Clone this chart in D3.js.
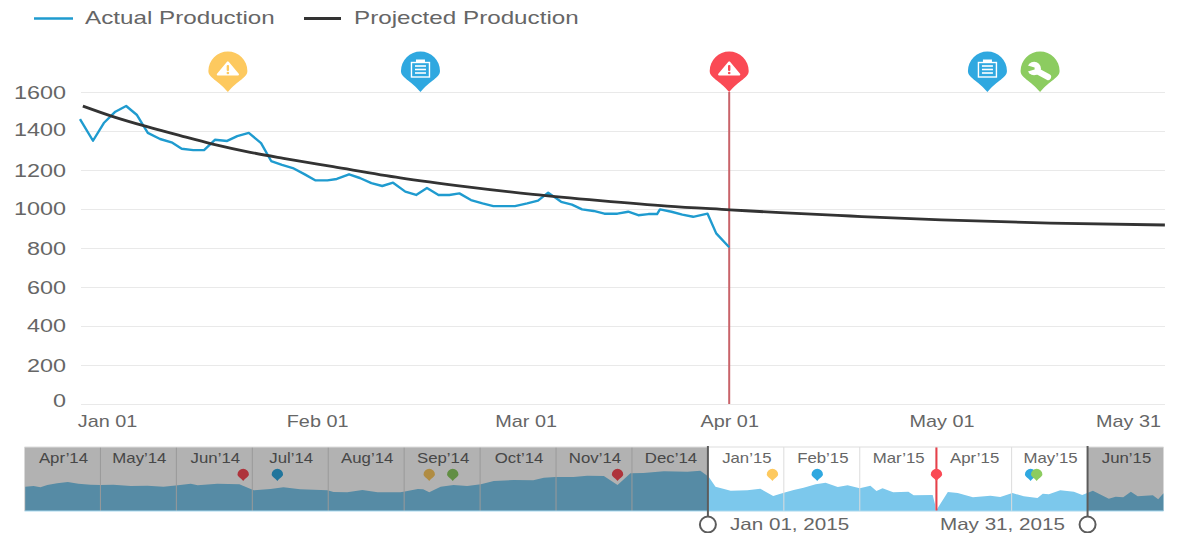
<!DOCTYPE html>
<html><head><meta charset="utf-8">
<script src="https://cdn.jsdelivr.net/npm/d3@7/dist/d3.min.js"></script>
<style>html,body{margin:0;padding:0;background:#fff}svg{display:block}text{font-family:"Liberation Sans",Arial,sans-serif}</style>
</head><body><svg id="c" width="1177" height="533"></svg>
<script>
const seriesNames = ["Actual Production", "Projected Production"];
const actualDays = [0,1.8,3.3,4.9,6.4,7.9,9.4,11.1,12.8,14.1,15.7,17.2,18.7,20.4,21.8,23.4,25.1,26.5,28,29.5,31.1,32.6,34.3,35.6,37.3,38.8,40.4,41.9,43.4,45.1,46.6,48.1,49.7,51.2,52.6,54.2,55.8,57.3,60.3,62,63.5,64.9,66.7,68.2,69.6,71.2,72.7,74.5,76,77.4,78.8,80,80.4,82,83.5,85,87,88.2,90];
const actualValues = [1461,1350,1441,1499,1528,1482,1390,1359,1340,1309,1302,1302,1355,1349,1374,1390,1338,1246,1226,1210,1179,1147,1147,1154,1178,1159,1133,1118,1135,1089,1072,1108,1072,1072,1080,1046,1029,1015,1015,1029,1043,1084,1037,1022,998,990,976,976,986,968,974,974,998,986,971,960,976,875,804];
const projectedDays = [0.4,4.9,9.3,13.9,18.4,23.6,28.2,35.1,44.4,53.7,62.8,72.1,81.4,90.1,97.1,106.8,119.4,134.5,150.4];
const projectedValues = [1528,1470,1422,1376,1333,1291,1260,1217,1160,1114,1075,1043,1015,996,981,964,944,928,918];
const yTicks = [0,200,400,600,800,1000,1200,1400,1600];
const yLabelNudge = [-4.5,0,-1,0,0,-1,0,-2,0];
const xTickDays = [0,31,59,90,120,150];
const xTickLabels = ["Jan 01","Feb 01","Mar 01","Apr 01","May 01","May 31"];
const xLabelNudge = [27,13.5,20,0,-4,-34];
const pinTypes = ["warn","clip","warn","clip","wrench"];
const pinColors = ["#fdc95f","#2fa8e0","#fa4a55","#2fa8e0","#8ccc60"];
const pinDays = [20.5,47.2,90,125.8,133.1];
const months = ["Apr’14","May’14","Jun’14","Jul’14","Aug’14","Sep’14","Oct’14","Nov’14","Dec’14","Jan’15","Feb’15","Mar’15","Apr’15","May’15","Jun’15"];
const miniMonths = [0.01,.12,.21,.30,.43,.57,.71,.87,1,1.17,1.4,1.62,1.83,2.02,2.19,2.28,2.54,2.83,2.94,3.02,3.24,3.41,3.63,3.99,4.07,4.25,4.45,4.65,4.95,4.99,5.18,5.25,5.33,5.48,5.65,5.83,6.01,6.18,6.44,6.7,6.84,6.99,7.23,7.41,7.63,7.81,7.98,8.15,8.42,8.73,8.9,9.01,9.1,9.3,9.52,9.69,9.86,10,10.13,10.26,10.42,10.55,10.71,10.84,11,11.14,11.22,11.3,11.44,11.64,11.71,11.96,12.01,12.16,12.29,12.49,12.72,12.85,13.01,13.16,13.34,13.41,13.49,13.64,13.82,13.93,14.07,14.28,14.37,14.47,14.57,14.66,14.86,14.93,15];
const miniValues = [607,625,592,650,692,725,682,657,650,657,625,632,607,642,682,642,682,667,582,517,550,592,542,517,475,467,525,467,467,482,550,542,467,607,650,625,667,750,775,767,832,850,850,882,875,650,942,950,992,982,1007,857,607,507,517,557,375,455,525,582,667,707,600,642,567,632,500,567,467,482,392,400,25,475,450,342,382,350,450,367,325,432,417,517,482,400,507,307,357,342,482,367,392,292,442];
const miniPinMonths = [2.88,3.33,5.33,5.64,7.81,9.85,10.44,12.01,13.25,13.33];
const miniPinColors = ["#fa4a55","#2fa8e0","#fdc95f","#8ccc60","#fa4a55","#fdc95f","#2fa8e0","#fa4a55","#2fa8e0","#8ccc60"];
const selectedMonths = [9,14];
const selectedLabels = ["Jan 01, 2015","May 31, 2015"];

const svg = d3.select("#c");
const textGrey = "#666";
function stretch(sel, sx, x, y){ sel.attr("x",0).attr("y",0).attr("dy",null).attr("transform",(d,i)=>{
  const px = typeof x==="function"?x(d,i):x, py = typeof y==="function"?y(d,i):y;
  return `translate(${px},${py}) scale(${sx},1)`;}); return sel; }

const x = d3.scaleLinear().domain([0,150]).range([80,1162]);
const y = d3.scaleLinear().domain([0,1600]).range([404,92]);

// grid + y axis
const gy = svg.append("g").attr("transform","translate(81,0)")
  .call(d3.axisLeft(y).tickValues(yTicks).tickSize(-1084).tickFormat(d3.format("d")));
gy.select(".domain").remove();
gy.selectAll("line").attr("stroke","#e9e9e9");
gy.selectAll("text").attr("font-size",18).attr("fill",textGrey).attr("text-anchor","end")
  .call(stretch,1.3,-15,(d,i)=>6.5+yLabelNudge[i]);

// x axis
const gx = svg.append("g").attr("transform","translate(0,404)")
  .call(d3.axisBottom(x).tickValues(xTickDays).tickSize(0).tickFormat((d,i)=>xTickLabels[i]));
gx.select(".domain").remove();
gx.selectAll("text").attr("font-size",16).attr("fill",textGrey).attr("text-anchor","middle")
  .call(stretch,1.24,(d,i)=>xLabelNudge[i],22.5);

// red marker
svg.append("line").attr("x1",x(90)).attr("x2",x(90)).attr("y1",y(1600)).attr("y2",y(0)).attr("stroke","#c9636a").attr("stroke-width",2);

// lines
const lineActual = d3.line().x((d,i)=>x(actualDays[i])).y(d=>y(d));
svg.append("path").datum(actualValues).attr("d",lineActual).attr("fill","none").attr("stroke","#1f9bcf").attr("stroke-width",2.4).attr("stroke-linejoin","round");
const lineProj = d3.line().x((d,i)=>x(projectedDays[i])).y(d=>y(d)).curve(d3.curveMonotoneX);
svg.append("path").datum(projectedValues).attr("d",lineProj).attr("fill","none").attr("stroke","#333").attr("stroke-width",2.8);

// pins
function pinPath(r,h){
  return `M0,0C${-r*.5},${-r*.6} ${-r},${-h+r*.35} ${-r},${-h}A${r},${r} 0 1 1 ${r},${-h}C${r},${-h+r*.35} ${r*.5},${-r*.6} 0,0Z`;
}
const pins = svg.append("g").selectAll("g").data(pinDays).join("g")
  .attr("transform",d=>`translate(${x(d)},${y(1600)})`);
pins.append("path").attr("d",pinPath(19.5,21)).attr("fill",(d,i)=>pinColors[i]);
pins.each(function(d,i){
  const g = d3.select(this), c = pinColors[i], t = pinTypes[i];
  if(t==="warn"){
    g.append("path").attr("d","M0,-29.5L10,-17.5H-10Z").attr("fill","#fff").attr("stroke","#fff").attr("stroke-width",2.2).attr("stroke-linejoin","round");
    g.append("rect").attr("x",-1.2).attr("y",-27).attr("width",2.4).attr("height",6).attr("rx",1).attr("fill",c);
    g.append("circle").attr("cy",-19).attr("r",1.3).attr("fill",c);
  } else if(t==="clip"){
    g.append("rect").attr("x",-9).attr("y",-29.5).attr("width",18).attr("height",14.5).attr("fill","none").attr("stroke","#fff").attr("stroke-width",1.4);
    g.append("rect").attr("x",-4.5).attr("y",-32.5).attr("width",9).attr("height",3.5).attr("fill","#fff");
    [-26,-22.5,-19].forEach(v=>g.append("line").attr("x1",-5.5).attr("x2",5.5).attr("y1",v).attr("y2",v).attr("stroke","#fff").attr("stroke-width",1.6));
  } else {
    g.append("path").attr("d","M-4,-21.5L8,-15").attr("fill","none").attr("stroke","#fff").attr("stroke-width",6).attr("stroke-linecap","round");
    g.append("circle").attr("cx",-6).attr("cy",-23.5).attr("r",6.8).attr("fill","#fff");
    g.append("path").attr("d","M-14,-27L-5.5,-24.5V-22.5L-14,-20Z").attr("fill",c);
  }
});

// legend
const legendX = [[34,73,85,"#1f9bcf",2.4],[304,341,354,"#333",2.8]];
const leg = svg.append("g").selectAll("g").data(seriesNames).join("g");
leg.append("line").attr("x1",(d,i)=>legendX[i][0]).attr("x2",(d,i)=>legendX[i][1]).attr("y1",18.5).attr("y2",18.5)
  .attr("stroke",(d,i)=>legendX[i][3]).attr("stroke-width",(d,i)=>legendX[i][4]);
leg.append("text").text(d=>d).attr("font-size",18).attr("fill",textGrey).call(stretch,1.345,(d,i)=>legendX[i][2],23.5);

// overview
const mx = d3.scaleLinear().domain([0,15]).range([24.5,1163.5]);
const my = d3.scaleLinear().domain([0,1600]).range([511,447]);
const ov = svg.append("g");
ov.append("rect").attr("x",mx(0)).attr("y",my(1600)).attr("width",mx(15)-mx(0)).attr("height",my(0)-my(1600)).attr("fill","#fff");
ov.append("path").datum(miniValues).attr("fill","#7cc8ec")
  .attr("d",d3.area().x((d,i)=>mx(miniMonths[i])).y0(my(0)).y1(d=>my(d)));
ov.selectAll(".sep").data(d3.range(1,15)).join("line").attr("x1",d=>mx(d)).attr("x2",d=>mx(d)).attr("y1",my(1600)).attr("y2",my(0)).attr("stroke","#dcdcdc").attr("stroke-width",1);
ov.selectAll(".mlab").data(months).join("text").text(d=>d).attr("font-size",14).attr("fill","#666").attr("text-anchor","middle")
  .call(stretch,1.2,(d,i)=>mx(i+.5)+1,463);
ov.append("line").attr("x1",mx(12.01)).attr("x2",mx(12.01)).attr("y1",my(1600)).attr("y2",my(0)).attr("stroke","#e8404a").attr("stroke-width",2);
ov.selectAll(".mpin").data(miniPinMonths).join("path").attr("d",pinPath(5.7,6.5)).attr("fill",(d,i)=>miniPinColors[i])
  .attr("transform",d=>`translate(${mx(d)},481)`);
// dimmed ranges
const dim = [[0,selectedMonths[0]],[selectedMonths[1],15]];
ov.selectAll(".dim").data(dim).join("rect").attr("x",d=>mx(d[0])).attr("width",d=>mx(d[1])-mx(d[0])).attr("y",my(1600)).attr("height",my(0)-my(1600)).attr("fill","#000").attr("fill-opacity",.3);
ov.append("line").attr("x1",mx(0)).attr("x2",mx(15)).attr("y1",my(1600)).attr("y2",my(1600)).attr("stroke","#ddd");
ov.append("line").attr("x1",mx(0)).attr("x2",mx(15)).attr("y1",my(0)).attr("y2",my(0)).attr("stroke","#a8d8ee").attr("stroke-width",1);
// handles
const h = ov.selectAll(".h").data(selectedMonths).join("g").attr("transform",d=>`translate(${mx(d)},0)`);
h.append("line").attr("y1",446).attr("y2",517).attr("stroke","#5c5c5c").attr("stroke-width",2);
h.append("circle").attr("cy",524.5).attr("r",8).attr("fill","#fff").attr("stroke","#5c5c5c").attr("stroke-width",2);
const labX = [730,940];
ov.selectAll(".dl").data(selectedLabels).join("text").text(d=>d).attr("font-size",16.5).attr("fill",textGrey)
  .call(stretch,1.25,(d,i)=>labX[i],530);
</script></body></html>
